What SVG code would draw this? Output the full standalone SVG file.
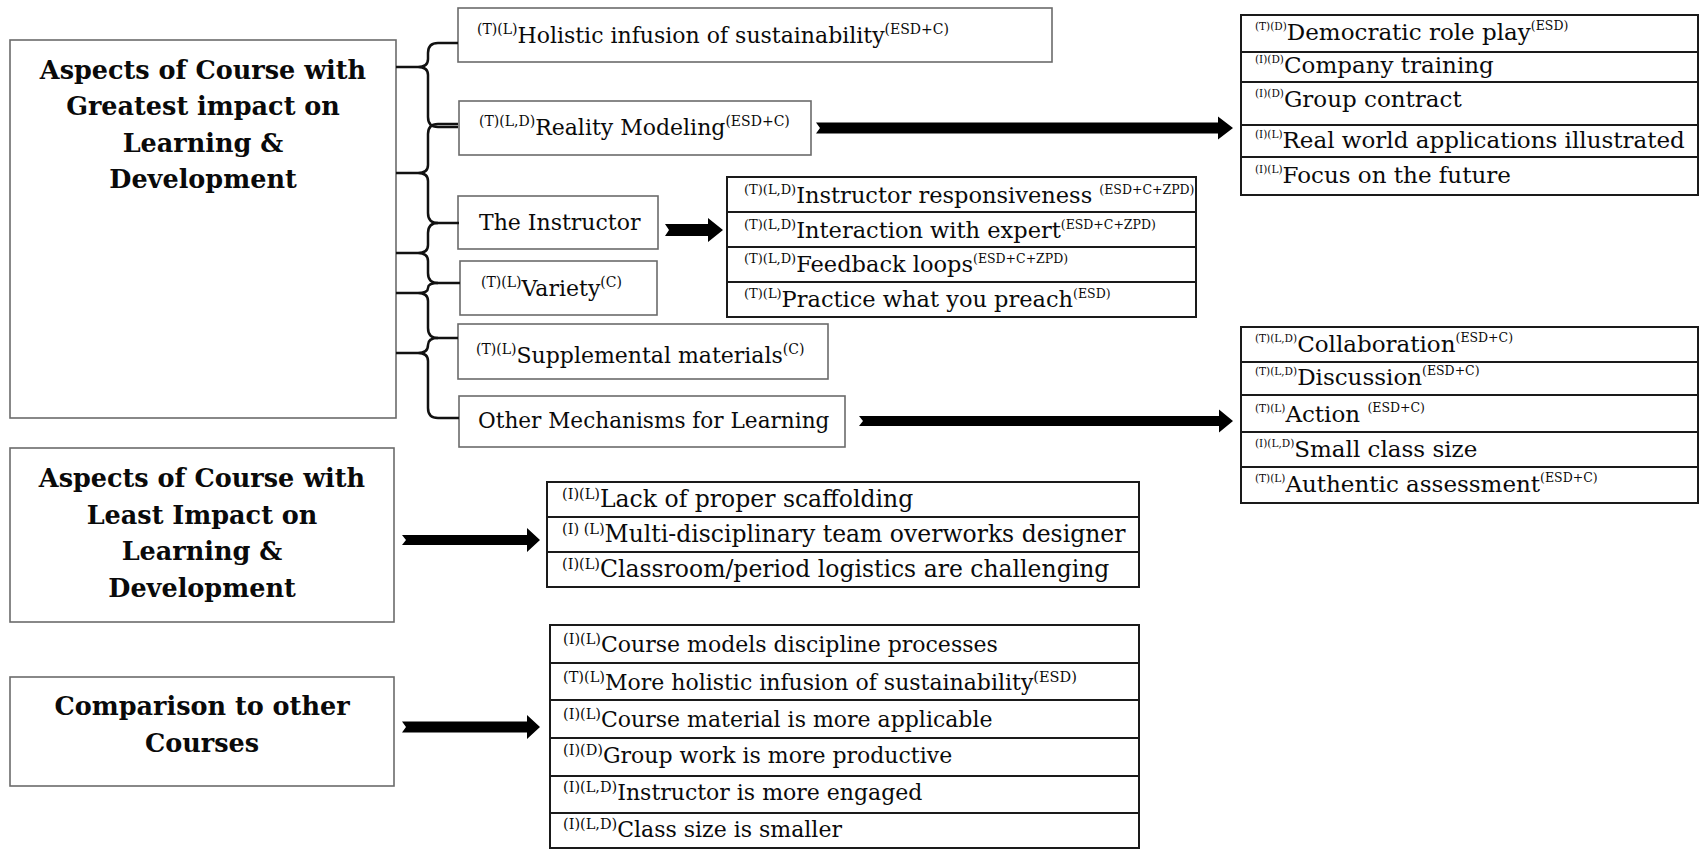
<svg xmlns="http://www.w3.org/2000/svg" width="1699" height="851" viewBox="0 0 1699 851">
<style>
.box{fill:#fff;stroke:#6b6b6b;stroke-width:1.6}
.tbl{fill:#fff;stroke:#1a1a1a;stroke-width:2}
.sep{stroke:#1a1a1a;stroke-width:2}
text{font-family:"DejaVu Serif","Liberation Serif",serif;fill:#0a0a0a}
.title{font-weight:bold;font-size:25.5px;text-anchor:middle}
.b{font-size:22px}
.bo{font-size:21.6px}
.bs{font-size:14px}
.i{font-size:22.5px}
.is{font-size:13px}
.it{font-size:12.5px}
.r{font-size:23px}
.rs{font-size:10.5px}
.rt{font-size:12.5px}
.l{font-size:22px}
.ll{font-size:23.5px}
.ls{font-size:14.5px}
.brace{fill:none;stroke:#111;stroke-width:2.5}
.arrow{fill:#000}
</style>
<rect width="1699" height="851" fill="#fff"/>

<g id="main-greatest">
<rect class="box" x="10" y="40" width="386" height="378"/>
<text class="title" x="203" y="79">Aspects of Course with</text>
<text class="title" x="203" y="115">Greatest impact on</text>
<text class="title" x="203" y="152">Learning &amp;</text>
<text class="title" x="203" y="188">Development</text>
</g>

<g id="main-least">
<rect class="box" x="10" y="448" width="384" height="174"/>
<text class="title" x="202" y="487">Aspects of Course with</text>
<text class="title" x="202" y="524">Least Impact on</text>
<text class="title" x="202" y="560">Learning &amp;</text>
<text class="title" x="202" y="597">Development</text>
</g>

<g id="main-comparison">
<rect class="box" x="10" y="677" width="384" height="109"/>
<text class="title" x="202" y="715">Comparison to other</text>
<text class="title" x="202" y="752">Courses</text>
</g>

<g id="holistic">
<rect class="box" x="458" y="8" width="594" height="54"/>
<text class="b" x="477" y="43"><tspan class="bs" dy="-9">(T)(L)</tspan><tspan dy="9">Holistic infusion of sustainability</tspan><tspan class="bs" dy="-9">(ESD+C)</tspan></text>
</g>

<g id="reality">
<rect class="box" x="459" y="101" width="352" height="54"/>
<text class="b" x="479" y="135"><tspan class="bs" dy="-9">(T)(L,D)</tspan><tspan dy="9">Reality Modeling</tspan><tspan class="bs" dy="-9">(ESD+C)</tspan></text>
</g>

<g id="instructor">
<rect class="box" x="458" y="196" width="200" height="53"/>
<text class="b" x="479" y="230">The Instructor</text>
</g>

<g id="variety">
<rect class="box" x="460" y="261" width="197" height="54"/>
<text class="b" x="481" y="296"><tspan class="bs" dy="-9">(T)(L)</tspan><tspan dy="9">Variety</tspan><tspan class="bs" dy="-9">(C)</tspan></text>
</g>

<g id="supplemental">
<rect class="box" x="458" y="324" width="370" height="55"/>
<text class="b" x="476" y="363"><tspan class="bs" dy="-9">(T)(L)</tspan><tspan dy="9">Supplemental materials</tspan><tspan class="bs" dy="-9">(C)</tspan></text>
</g>

<g id="other-mechanisms">
<rect class="box" x="459" y="396" width="386" height="51"/>
<text class="bo" x="478" y="428">Other Mechanisms for Learning</text>
</g>

<g id="reality-list">
<rect class="tbl" x="1241" y="15" width="457" height="180"/>
<line class="sep" x1="1241" y1="52" x2="1698" y2="52"/>
<line class="sep" x1="1241" y1="82" x2="1698" y2="82"/>
<line class="sep" x1="1241" y1="125" x2="1698" y2="125"/>
<line class="sep" x1="1241" y1="157" x2="1698" y2="157"/>
<text class="r" x="1255" y="40"><tspan class="rs" dy="-10">(T)(D)</tspan><tspan dy="10">Democratic role play</tspan><tspan class="rt" dy="-10">(ESD)</tspan></text>
<text class="r" x="1255" y="73"><tspan class="rs" dy="-10">(I)(D)</tspan><tspan dy="10">Company training</tspan></text>
<text class="r" x="1255" y="107"><tspan class="rs" dy="-10">(I)(D)</tspan><tspan dy="10">Group contract</tspan></text>
<text class="r" x="1255" y="148"><tspan class="rs" dy="-10">(I)(L)</tspan><tspan dy="10">Real world applications illustrated</tspan></text>
<text class="r" x="1255" y="183"><tspan class="rs" dy="-10">(I)(L)</tspan><tspan dy="10">Focus on the future</tspan></text>
</g>

<g id="instructor-list">
<rect class="tbl" x="727" y="177" width="469" height="140"/>
<line class="sep" x1="727" y1="212" x2="1196" y2="212"/>
<line class="sep" x1="727" y1="247" x2="1196" y2="247"/>
<line class="sep" x1="727" y1="282" x2="1196" y2="282"/>
<text class="i" x="744" y="203"><tspan class="is" dy="-9">(T)(L,D)</tspan><tspan dy="9">Instructor responsiveness </tspan><tspan class="it" dy="-9">(ESD+C+ZPD)</tspan></text>
<text class="i" x="744" y="238"><tspan class="is" dy="-9">(T)(L,D)</tspan><tspan dy="9">Interaction with expert</tspan><tspan class="it" dy="-9">(ESD+C+ZPD)</tspan></text>
<text class="i" x="744" y="272"><tspan class="is" dy="-9">(T)(L,D)</tspan><tspan dy="9">Feedback loops</tspan><tspan class="it" dy="-9">(ESD+C+ZPD)</tspan></text>
<text class="i" x="744" y="307"><tspan class="is" dy="-9">(T)(L)</tspan><tspan dy="9">Practice what you preach</tspan><tspan class="it" dy="-9">(ESD)</tspan></text>
</g>

<g id="mechanisms-list">
<rect class="tbl" x="1241" y="327" width="457" height="176"/>
<line class="sep" x1="1241" y1="362" x2="1698" y2="362"/>
<line class="sep" x1="1241" y1="395" x2="1698" y2="395"/>
<line class="sep" x1="1241" y1="432" x2="1698" y2="432"/>
<line class="sep" x1="1241" y1="467" x2="1698" y2="467"/>
<text class="r" x="1255" y="352"><tspan class="rs" dy="-10">(T)(L,D)</tspan><tspan dy="10">Collaboration</tspan><tspan class="rt" dy="-10">(ESD+C)</tspan></text>
<text class="r" x="1255" y="385"><tspan class="rs" dy="-10">(T)(L,D)</tspan><tspan dy="10">Discussion</tspan><tspan class="rt" dy="-10">(ESD+C)</tspan></text>
<text class="r" x="1255" y="422"><tspan class="rs" dy="-10">(T)(L)</tspan><tspan dy="10">Action </tspan><tspan class="rt" dy="-10">(ESD+C)</tspan></text>
<text class="r" x="1255" y="457"><tspan class="rs" dy="-10">(I)(L,D)</tspan><tspan dy="10">Small class size</tspan></text>
<text class="r" x="1255" y="492"><tspan class="rs" dy="-10">(T)(L)</tspan><tspan dy="10">Authentic assessment</tspan><tspan class="rt" dy="-10">(ESD+C)</tspan></text>
</g>

<g id="least-list">
<rect class="tbl" x="547" y="482" width="592" height="105"/>
<line class="sep" x1="547" y1="517" x2="1139" y2="517"/>
<line class="sep" x1="547" y1="552" x2="1139" y2="552"/>
<text class="ll" x="562" y="507"><tspan class="ls" dy="-8">(I)(L)</tspan><tspan dy="8">Lack of proper scaffolding</tspan></text>
<text class="ll" x="562" y="542"><tspan class="ls" dy="-8">(I) (L)</tspan><tspan dy="8">Multi-disciplinary team overworks designer</tspan></text>
<text class="ll" x="562" y="577"><tspan class="ls" dy="-8">(I)(L)</tspan><tspan dy="8">Classroom/period logistics are challenging</tspan></text>
</g>

<g id="comparison-list">
<rect class="tbl" x="550" y="625" width="589" height="223"/>
<line class="sep" x1="550" y1="663" x2="1139" y2="663"/>
<line class="sep" x1="550" y1="700" x2="1139" y2="700"/>
<line class="sep" x1="550" y1="738" x2="1139" y2="738"/>
<line class="sep" x1="550" y1="776" x2="1139" y2="776"/>
<line class="sep" x1="550" y1="813" x2="1139" y2="813"/>
<text class="l" x="563" y="652"><tspan class="ls" dy="-8">(I)(L)</tspan><tspan dy="8">Course models discipline processes</tspan></text>
<text class="l" x="563" y="690"><tspan class="ls" dy="-8">(T)(L)</tspan><tspan dy="8">More holistic infusion of sustainability</tspan><tspan class="ls" dy="-8">(ESD)</tspan></text>
<text class="l" x="563" y="727"><tspan class="ls" dy="-8">(I)(L)</tspan><tspan dy="8">Course material is more applicable</tspan></text>
<text class="l" x="563" y="763"><tspan class="ls" dy="-8">(I)(D)</tspan><tspan dy="8">Group work is more productive</tspan></text>
<text class="l" x="563" y="800"><tspan class="ls" dy="-8">(I)(L,D)</tspan><tspan dy="8">Instructor is more engaged</tspan></text>
<text class="l" x="563" y="837"><tspan class="ls" dy="-8">(I)(L,D)</tspan><tspan dy="8">Class size is smaller</tspan></text>
</g>

<g id="connectors">
<path class="brace" d="M458 43 H438 Q428 43 428 53 V59 Q428 67 418 67 Q428 67 428 75 V117 Q428 127 438 127 H458 M396 67 H418"/>
<path class="brace" d="M458 124 H438 Q428 124 428 134 V165 Q428 173 418 173 Q428 173 428 181 V213 Q428 223 438 223 H459 M396 173 H418"/>
<path class="brace" d="M438 223 Q428 223 428 233 V245 Q428 253 418 253 Q428 253 428 261 V273 Q428 283 438 283 H460 M396 253 H418"/>
<path class="brace" d="M438 283 Q428 283 428 288 Q428 293 418 293 Q428 293 428 301 V328 Q428 338 438 338 H458 M396 293 H418"/>
<path class="brace" d="M438 338 Q428 338 428 345 Q428 353 418 353 Q428 353 428 361 V408 Q428 418 438 418 H459 M396 353 H418"/>
<polygon class="arrow" points="816,122.5 1218,122.5 1218,116.5 1233,128 1218,139.5 1218,133.5 816,133.5 820,128"/>
<polygon class="arrow" points="665,224 708,224 708,218 723,230 708,242 708,236 665,236 669,230"/>
<polygon class="arrow" points="859,416 1219,416 1219,409.5 1233,421 1219,432.5 1219,426 859,426 863,421"/>
<polygon class="arrow" points="402,535 527,535 527,528 540,540 527,552 527,545 402,545 406,540"/>
<polygon class="arrow" points="402,721.5 527,721.5 527,715 540,727 527,739 527,732.5 402,732.5 406,727"/>
</g>
</svg>
